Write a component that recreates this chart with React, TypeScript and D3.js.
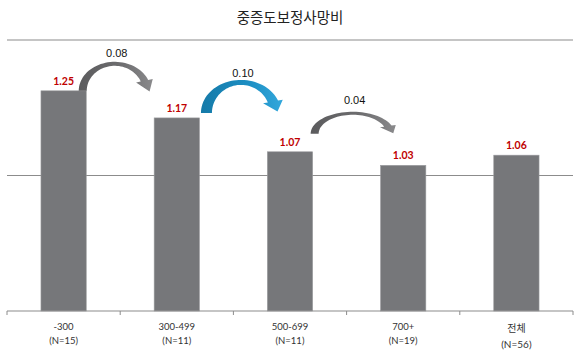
import React from "react";
import * as d3 from "d3";

const categories = ["-300", "300-499", "500-699", "700+", "전체"];
const counts = ["(N=15)", "(N=11)", "(N=11)", "(N=19)", "(N=56)"];
const values = [1.25, 1.17, 1.07, 1.03, 1.06];
const diffLabels = ["0.08", "0.10", "0.04"];
const diffColors = ["gray", "blue", "gray"];
const yDomain = [0.6, 1.4];
const gridValues = [1.0, 1.4];

const W = 580;
const H = 355;
const left = 7;
const right = 573;
const top = 40;
const bottom = 311;

function arrowPath(
  cx: number, cy: number,
  rxo: number, ryo: number, rxi: number, ryi: number,
  endDeg: number, headW: number, headL: number
) {
  const N = 40;
  const t0 = Math.PI;
  const t1 = (endDeg * Math.PI) / 180;
  const outer: [number, number][] = [];
  const inner: [number, number][] = [];
  for (let i = 0; i <= N; i++) {
    const t = t0 + (t1 - t0) * (i / N);
    outer.push([cx + rxo * Math.cos(t), cy - ryo * Math.sin(t)]);
    inner.push([cx + rxi * Math.cos(t), cy - ryi * Math.sin(t)]);
  }
  const eo = outer[N];
  const ei = inner[N];
  const mx = (eo[0] + ei[0]) / 2;
  const my = (eo[1] + ei[1]) / 2;
  const rxm = (rxo + rxi) / 2;
  const rym = (ryo + ryi) / 2;
  let dx = rxm * Math.sin(t1);
  let dy = rym * Math.cos(t1);
  const len = Math.hypot(dx, dy);
  dx /= len;
  dy /= len;
  let px = eo[0] - ei[0];
  let py = eo[1] - ei[1];
  const pl = Math.hypot(px, py);
  px /= pl;
  py /= pl;
  const hw = headW / 2;
  const ho: [number, number] = [mx + px * hw, my + py * hw];
  const hi: [number, number] = [mx - px * hw, my - py * hw];
  const tip: [number, number] = [mx + dx * headL, my + dy * headL];
  const line = d3.line();
  const pts: [number, number][] = [
    ...outer,
    ho,
    tip,
    hi,
    ...inner.slice().reverse(),
  ];
  return line(pts) + "Z";
}

export default function App() {
  const x = d3
    .scaleBand<string>()
    .domain(categories)
    .range([left, right])
    .paddingInner(0.6)
    .paddingOuter(0.3);
  const y = d3.scaleLinear().domain(yDomain).range([bottom, top]);
  const bw = x.bandwidth();
  const step = x.step();

  const arrows = diffLabels.map((lab, i) => {
    const x0 = x(categories[i])! + bw;
    const yTop = y(values[i]);
    return { lab, i, x0, yTop };
  });

  const arrowSpecs = [
    { rxo: 36, ryo: 29, rxi: 28, ryi: 25, end: 22, hw: 17, hl: 12, sx: -7.5, dyc: 0 },
    { rxo: 40, ryo: 33, rxi: 29, ryi: 28, end: 22, hw: 20, hl: 11, sx: 1.5, dyc: -5 },
    { rxo: 42, ryo: 22, rxi: 34, ryi: 19, end: 22, hw: 16, hl: 9, sx: -2, dyc: -18 },
  ];

  const labelY = [53, 73, 100];

  return (
    <svg width={W} height={H} style={{ display: "block", position: "absolute", left: 0, top: 0 }}>
      <defs>
        <linearGradient id="gGray" x1="0" y1="0" x2="1" y2="0">
          <stop offset="0" stopColor="#5b5b5d" />
          <stop offset="0.6" stopColor="#6e6e70" />
          <stop offset="1" stopColor="#8a8a8c" />
        </linearGradient>
        <linearGradient id="gBlue" x1="0" y1="0" x2="1" y2="0">
          <stop offset="0" stopColor="#157aa8" />
          <stop offset="0.6" stopColor="#1d8fc4" />
          <stop offset="1" stopColor="#33a8dc" />
        </linearGradient>
      </defs>
      <rect x={0} y={0} width={W} height={H} fill="#fff" />
      <text
        x={290}
        y={23}
        textAnchor="middle"
        fontFamily="'Noto Sans CJK KR', sans-serif"
        fontSize={14.5}
        fill="#222"
      >
        중증도보정사망비
      </text>
      {gridValues.map((g) => (
        <line key={g} x1={left} x2={right} y1={y(g)} y2={y(g)} stroke="#8c8c8c" strokeWidth={1.2} />
      ))}
      {categories.map((c, i) => (
        <rect
          key={c}
          x={x(c)!}
          y={y(values[i])}
          width={bw}
          height={bottom - y(values[i])}
          fill="#76777a"
          stroke="#9a9b9e"
          strokeWidth={0.6}
        />
      ))}
      <line x1={left} x2={right} y1={bottom} y2={bottom} stroke="#8c8c8c" strokeWidth={1.2} />
      {d3.range(categories.length + 1).map((k) => {
        const tx = left + k * step;
        return <line key={k} x1={tx} x2={tx} y1={bottom} y2={bottom + 4} stroke="#8c8c8c" strokeWidth={1} />;
      })}
      {categories.map((c, i) => (
        <text
          key={c}
          x={x(c)! + bw / 2}
          y={y(values[i]) - 6}
          textAnchor="middle"
          fontFamily="Lato, 'Open Sans', sans-serif"
          fontWeight="bold"
          fontSize={10.5}
          fill="#c00000"
        >
          {values[i].toFixed(2)}
        </text>
      ))}
      {categories.map((c, i) => {
        const isAll = i === categories.length - 1;
        const cx = x(c)! + bw / 2;
        return (
          <g key={c} fontFamily="Lato, 'Noto Sans CJK KR', sans-serif" fontSize={isAll ? 10 : 9.5} fill="#333" textAnchor="middle">
            <text x={cx} y={isAll ? 332 : 329.5}>
              {c}
            </text>
            <text x={cx} y={isAll ? 348 : 343.5}>
              {counts[i]}
            </text>
          </g>
        );
      })}
      {arrows.map((a, k) => {
        const s = arrowSpecs[k];
        const startX = a.x0 + s.sx;
        const cy = a.yTop + s.dyc;
        const cx = startX + s.rxo;
        const d = arrowPath(cx, cy, s.rxo, s.ryo, s.rxi, s.ryi, s.end, s.hw, s.hl);
        return (
          <g key={k}>
            <path d={d} fill={diffColors[k] === "blue" ? "url(#gBlue)" : "url(#gGray)"} />
            <text
              x={cx + 2}
              y={labelY[k] + 4}
              textAnchor="middle"
              fontFamily="'Liberation Sans', Arial, sans-serif"
              fontSize={11}
              fill="#111"
            >
              {a.lab}
            </text>
          </g>
        );
      })}
    </svg>
  );
}
